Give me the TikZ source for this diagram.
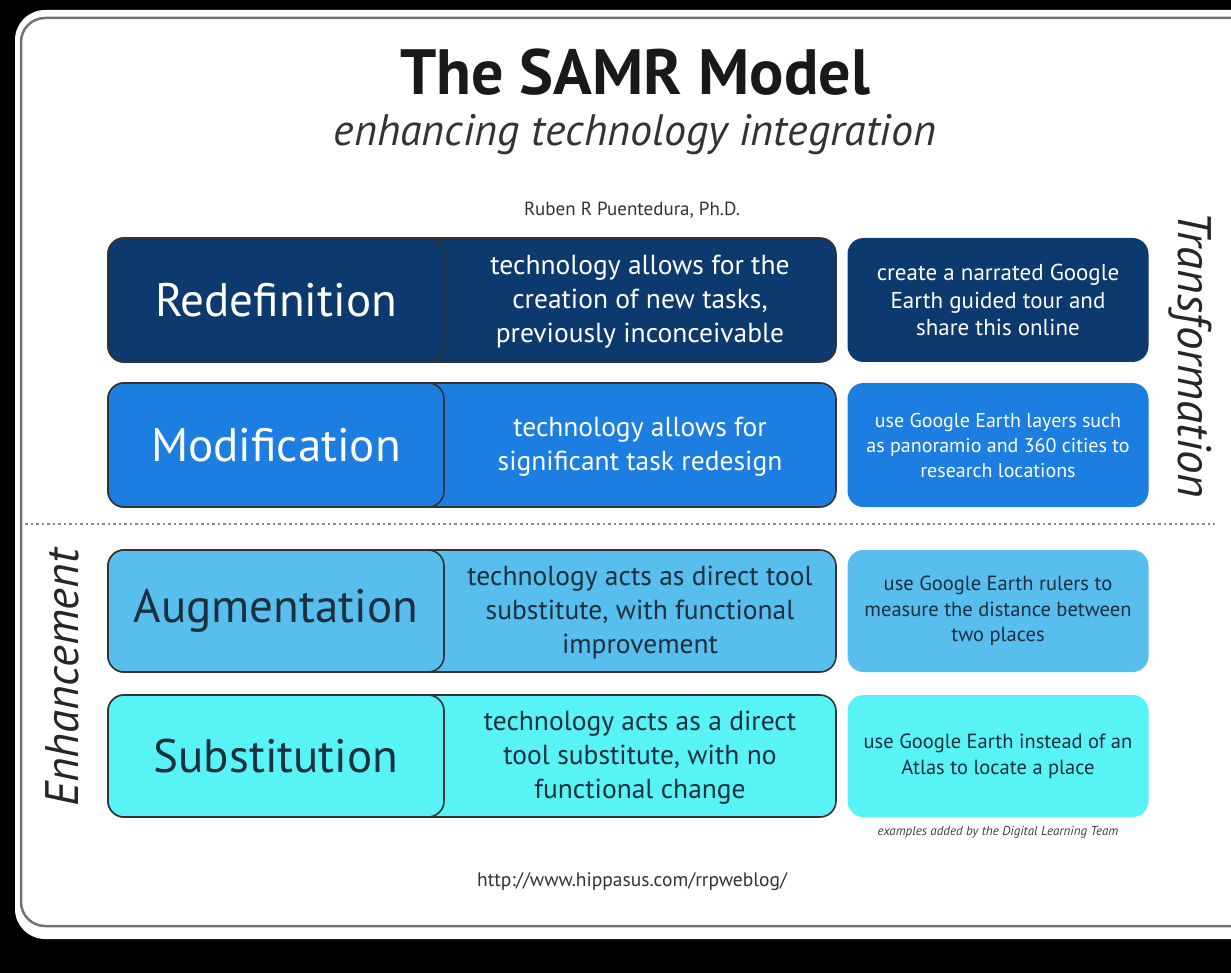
\documentclass[tikz,border=0pt]{standalone}
\usepackage{fontspec}
\setmainfont{PT Sans}
\definecolor{redef}{HTML}{0C3A6E}
\definecolor{modif}{HTML}{1B7EE0}
\definecolor{augm}{HTML}{58BEEE}
\definecolor{subst}{HTML}{57F3F5}
\definecolor{ink}{HTML}{1B2F3D}
\begin{document}
\begin{tikzpicture}[x=1pt,y=-1pt,
  row/.style={draw=black!80, line width=1.6pt, rounded corners=16pt, minimum width=728pt, minimum height=124pt, inner sep=0pt},
  level/.style={row, minimum width=336pt, font=\fontsize{47}{50}\selectfont},
  what/.style={align=center, font=\fontsize{27.5}{34}\selectfont},
  eg/.style={rounded corners=16pt, minimum width=301pt, minimum height=124pt, inner sep=0pt, align=center, font=\fontsize{20.5}{25.5}\selectfont},
  side/.style={font=\fontsize{47}{48}\selectfont\itshape, anchor=base, text=black!85}]
\clip (0,0) rectangle (1231,973);
\fill[black] (0,0) rectangle (1231,973);
\fill[white, rounded corners=30pt] (15,10) rectangle (1290,939);
\draw[black!55, line width=2.5pt, rounded corners=24pt] (21,18) rectangle (1290,926);

\node[font=\fontsize{64}{66}\selectfont\bfseries, text=black!90] (title) at (635,72) {The SAMR Model};
\node[font=\fontsize{44}{46}\selectfont\itshape, text=black!80] (subtitle) at (635,135) {enhancing technology integration};
\node[font=\fontsize{19}{20}\selectfont, text=black!80] (author) at (632,210) {Ruben R Puentedura, Ph.D.};

% Redefinition
\node[row, fill=redef] (redefrow) at (472,300) {};
\node[level, fill=redef, text=white] (redef) at (276,300) {Redefinition};
\node[what, text=white] (redefwhat) at (640,302) {technology allows for the\\creation of new tasks,\\previously inconceivable};
\node[eg, fill=redef, text=white, font=\fontsize{23}{27.5}\selectfont] (redefeg) at (998,300) {create a narrated Google\\Earth guided tour and\\share this online};

% Modification
\node[row, fill=modif] (modifrow) at (472,445) {};
\node[level, fill=modif, text=white] (modif) at (276,445) {Modification};
\node[what, text=white] (modifwhat) at (640,447) {technology allows for\\significant task redesign};
\node[eg, fill=modif, text=white, font=\fontsize{20}{25}\selectfont] (modifeg) at (998,445) {use Google Earth layers such\\as panoramio and 360 cities to\\research locations};

\draw[black!45, line width=2.5pt, dash pattern=on 2.5pt off 3pt] (25,524) -- (1215,524);

% Augmentation
\node[row, fill=augm, minimum height=122pt] (augmrow) at (472,611) {};
\node[level, fill=augm, text=ink, minimum height=122pt] (augm) at (276,611) {Augmentation};
\node[what, text=ink] (augmwhat) at (640,613) {technology acts as direct tool\\substitute, with functional\\improvement};
\node[eg, fill=augm, text=ink, minimum height=122pt] (augmeg) at (998,611) {use Google Earth rulers to\\measure the distance between\\two places};

% Substitution
\node[row, fill=subst, minimum height=122pt] (substrow) at (472,756) {};
\node[level, fill=subst, text=ink, minimum height=122pt] (subst) at (276,756) {Substitution};
\node[what, text=ink] (substwhat) at (640,758) {technology acts as a direct\\tool substitute, with no\\functional change};
\node[eg, fill=subst, text=ink, minimum height=122pt] (substeg) at (998,756) {use Google Earth instead of an\\Atlas to locate a place};

\node[side, rotate=-90] (transf) at (1178,355) {Transformation};
\node[side, rotate=90] (enh) at (78,678) {Enhancement};

\node[font=\fontsize{13}{14}\selectfont\itshape, text=black!75] (credit) at (998,832) {examples added by the Digital Learning Team};
\node[font=\fontsize{19.5}{20}\selectfont, text=black!80] (url) at (632,882) {http://www.hippasus.com/rrpweblog/};
\end{tikzpicture}
\end{document}
